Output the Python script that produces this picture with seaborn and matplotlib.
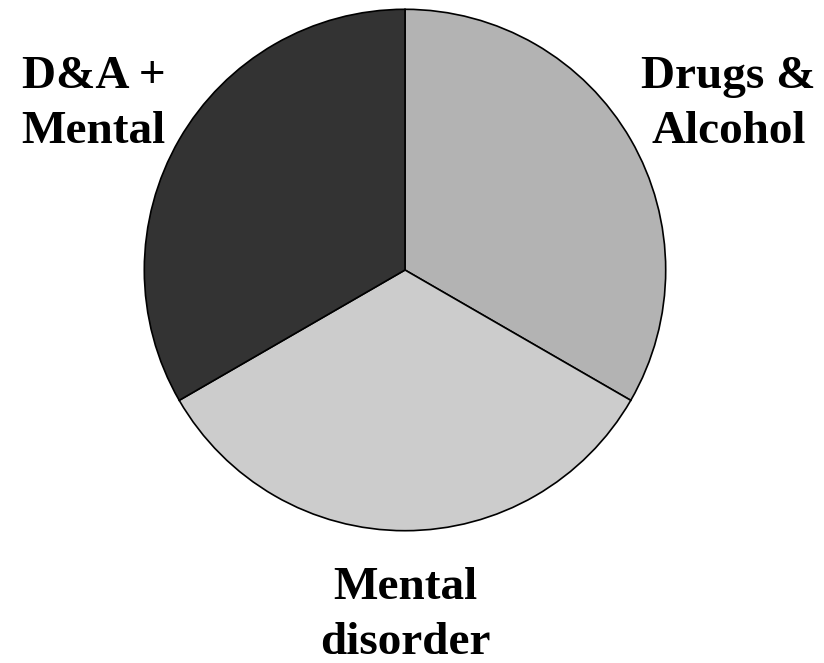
import matplotlib
matplotlib.use("Agg")
import matplotlib.pyplot as plt
import seaborn as sns

# slice data, clockwise from the top
categories = ["Drugs &\nAlcohol", "Mental\ndisorder", "D&A +\nMental"]
shares = [1, 1, 1]
slice_colors = ["#b3b3b3", "#cccccc", "#333333"]

# label anchor points in pie units (radius = 1)
label_x = [1.24, 0.0, -1.195]
label_y = [0.635, -1.325, 0.635]

sns.set_theme(style="white")
plt.rcParams["font.family"] = ["Liberation Serif", "DejaVu Serif"]

fig = plt.figure(figsize=(8.24, 6.63), dpi=100)
# square axes: centre at (405, 270) px, radius 262 px
ax = fig.add_axes([143 / 824, (393 - 262) / 663, 524 / 824, 524 / 663])

ax.pie(
    shares,
    colors=slice_colors,
    startangle=90,
    counterclock=False,
    radius=1,
    wedgeprops={"edgecolor": "black", "linewidth": 1.2},
)
ax.set_xlim(-1.005, 1.005)
ax.set_ylim(-1.005, 1.005)
ax.set_aspect("equal")
ax.axis("off")

for txt, x, y in zip(categories, label_x, label_y):
    ax.text(x, y, txt, ha="center", va="center", fontsize=34,
            fontweight="bold", linespacing=1.42, color="black")

fig.savefig("out.png", dpi=100)
plt.close(fig)
